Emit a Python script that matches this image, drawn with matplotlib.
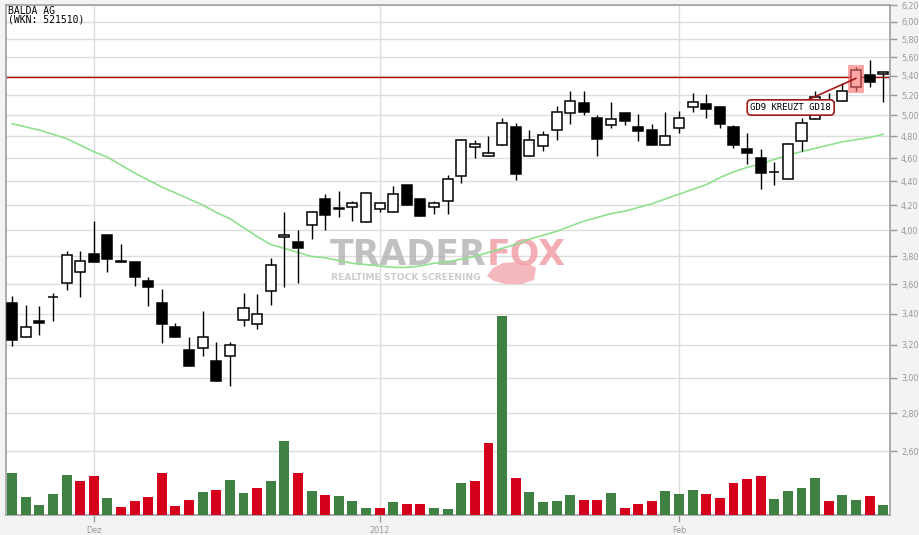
import matplotlib
matplotlib.use("Agg")
import matplotlib.pyplot as plt
from matplotlib.patches import Rectangle, Polygon
from matplotlib.ticker import FixedLocator, NullLocator, NullFormatter, FuncFormatter
import numpy as np

# ---------------- data ----------------
title_name = "BALDA AG"
title_wkn = "(WKN: 521510)"

opens = [3.47, 3.25, 3.35, 3.51, 3.61, 3.69, 3.82, 3.96, 3.76, 3.76,
         3.62, 3.47, 3.31, 3.17, 3.18, 3.10, 3.13, 3.36, 3.33, 3.55,
         3.95, 3.91, 4.04, 4.25, 4.17, 4.18, 4.06, 4.17, 4.14, 4.37,
         4.25, 4.18, 4.23, 4.44, 4.70, 4.62, 4.72, 4.89, 4.62, 4.71,
         4.86, 5.02, 5.12, 4.98, 4.91, 5.02, 4.89, 4.86, 4.72, 4.88,
         5.08, 5.11, 5.08, 4.89, 4.68, 4.60, 4.48, 4.42, 4.76, 4.97,
         5.10, 5.14, 5.29, 5.41, 5.42]
highs = [3.52, 3.46, 3.45, 3.54, 3.84, 3.84, 4.07, 3.96, 3.89, 3.76,
         3.65, 3.57, 3.34, 3.25, 3.42, 3.22, 3.22, 3.54, 3.53, 3.79,
         4.14, 4.00, 4.15, 4.29, 4.32, 4.23, 4.31, 4.22, 4.36, 4.37,
         4.25, 4.23, 4.45, 4.78, 4.77, 4.80, 4.98, 4.93, 4.86, 4.85,
         5.09, 5.24, 5.24, 5.00, 5.13, 5.02, 5.01, 4.92, 5.03, 5.04,
         5.22, 5.21, 5.08, 4.91, 4.83, 4.68, 4.57, 4.74, 4.98, 5.24,
         5.22, 5.33, 5.50, 5.57, 5.44]
lows = [3.19, 3.25, 3.26, 3.35, 3.56, 3.51, 3.76, 3.69, 3.76, 3.59,
        3.45, 3.21, 3.25, 3.07, 3.13, 2.98, 2.95, 3.32, 3.30, 3.46,
        3.58, 3.61, 3.93, 4.00, 4.10, 4.07, 4.06, 4.14, 4.14, 4.20,
        4.11, 4.13, 4.13, 4.38, 4.60, 4.62, 4.72, 4.41, 4.62, 4.67,
        4.77, 4.92, 5.00, 4.62, 4.88, 4.91, 4.76, 4.72, 4.72, 4.83,
        5.03, 4.98, 4.88, 4.69, 4.55, 4.33, 4.37, 4.42, 4.67, 4.97,
        5.05, 5.14, 5.24, 5.29, 5.13]
closes = [3.23, 3.31, 3.34, 3.51, 3.81, 3.77, 3.76, 3.78, 3.76, 3.65,
          3.58, 3.33, 3.25, 3.07, 3.25, 2.98, 3.20, 3.44, 3.40, 3.74,
          3.96, 3.86, 4.14, 4.12, 4.17, 4.22, 4.30, 4.22, 4.29, 4.20,
          4.11, 4.22, 4.42, 4.77, 4.73, 4.65, 4.93, 4.46, 4.77, 4.81,
          5.03, 5.14, 5.03, 4.78, 4.97, 4.95, 4.85, 4.72, 4.80, 4.98,
          5.13, 5.06, 4.92, 4.72, 4.65, 4.47, 4.48, 4.73, 4.93, 5.18,
          5.13, 5.24, 5.46, 5.34, 5.44]
volumes = [126, 54, 30, 63, 120, 102, 117, 51, 24, 42,
           54, 126, 27, 45, 69, 75, 105, 66, 81, 102,
           222, 126, 72, 60, 57, 42, 21, 21, 39, 33,
           33, 21, 18, 96, 102, 216, 597, 111, 69, 39,
           42, 60, 45, 45, 66, 21, 33, 42, 72, 63,
           75, 63, 51, 96, 108, 117, 48, 72, 81, 111,
           42, 60, 45, 57, 30]
ma_values = [4.92, 4.89, 4.86, 4.82, 4.78, 4.72, 4.66, 4.61, 4.54, 4.47,
             4.41, 4.35, 4.30, 4.25, 4.20, 4.14, 4.09, 4.02, 3.95, 3.89,
             3.86, 3.83, 3.80, 3.79, 3.77, 3.75, 3.74, 3.73, 3.72, 3.72,
             3.73, 3.75, 3.76, 3.78, 3.80, 3.83, 3.86, 3.89, 3.93, 3.96,
             3.99, 4.03, 4.07, 4.10, 4.13, 4.15, 4.18, 4.21, 4.25, 4.29,
             4.33, 4.37, 4.43, 4.48, 4.52, 4.55, 4.59, 4.63, 4.66, 4.69,
             4.72, 4.75, 4.77, 4.79, 4.82]
month_tick_idx = [6, 27, 49]
month_labels = ["Dez", "2012", "Feb"]
price_ticks = [2.6, 2.8, 3.0, 3.2, 3.4, 3.6, 3.8, 4.0, 4.2, 4.4,
               4.6, 4.8, 5.0, 5.2, 5.4, 5.6, 5.8, 6.0, 6.2]
resistance_level = 5.39
signal_idx = 62
signal_text = "GD9 KREUZT GD18"
watermark_a = "TRADER"
watermark_b = "FOX"
watermark_sub = "REALTIME STOCK SCREENING"

# ---------------- figure ----------------
W, H = 920, 535
fig = plt.figure(figsize=(W / 100, H / 100), dpi=100, facecolor="#f3f3f3")
ax = fig.add_axes([6 / W, 20 / H, 884 / W, 510 / H])
ax.set_facecolor("white")
ax2 = ax.twinx()

n = len(opens)
x = np.arange(n)
o = np.array(opens); c = np.array(closes)
hi = np.array(highs); lo = np.array(lows)

ax.set_yscale("log")
ax.set_ylim(2.297, 6.2)
ax.set_xlim(-0.45, n - 0.5)

# axes / ticks
ax.yaxis.tick_right()
ax.yaxis.set_major_locator(FixedLocator(price_ticks))
ax.yaxis.set_minor_locator(NullLocator())
ax.yaxis.set_minor_formatter(NullFormatter())
ax.yaxis.set_major_formatter(FuncFormatter(lambda v, p: f"{v:.2f}".replace(".", ",")))
ax.set_xticks(month_tick_idx)
ax.set_xticklabels(month_labels)
ax.tick_params(axis="both", direction="out", length=5, width=1, color="#999999",
               labelcolor="#999999", labelsize=5.8, pad=3)
ax.set_axisbelow(True)
ax.grid(True, axis="both", color="#dddddd", lw=1)
for s in ax.spines.values():
    s.set_color("#a0a0a0")
    s.set_linewidth(1.2)

# watermark (behind data)
ax.text(487 / W, 1 - 265 / H, watermark_a, transform=fig.transFigure, ha="right",
        va="baseline", fontsize=25, fontweight="bold", color="#b2b2b2", alpha=0.8, zorder=1)
ax.text(487 / W, 1 - 265 / H, watermark_b, transform=fig.transFigure, ha="left",
        va="baseline", fontsize=25, fontweight="bold", color="#f2a0a8", alpha=0.85, zorder=1)
ax.text(406 / W, 1 - 277 / H, watermark_sub, transform=fig.transFigure, ha="center",
        va="center", fontsize=6.6, fontweight="bold", color="#cccccc", zorder=1)
tail_px = [(487, 276), (493, 268), (503, 263), (516, 262), (530, 264), (536, 268),
           (534, 280), (522, 284), (505, 284), (494, 281)]
ax.add_patch(Polygon([(px / W, 1 - py / H) for px, py in tail_px], closed=True,
                     transform=fig.transFigure, facecolor="#f2a0a8", edgecolor="none",
                     alpha=0.75, zorder=1))

# moving average & resistance
ax.plot(x, ma_values, color="#8fe08f", lw=1.2, zorder=2)
ax.axhline(resistance_level, color="#b00000", lw=1, zorder=2.5)

# candles
ax.vlines(x, lo, hi, color="black", lw=1, zorder=3)
bottoms = np.minimum(o, c)
heights = np.maximum(np.abs(c - o), 0.003)
faces = ["white" if cc > oo else "black" for oo, cc in zip(o, c)]
ax.bar(x, heights, bottom=bottoms, width=0.74, color=faces, edgecolor="black",
       linewidth=1.1, zorder=4)

# highlight of signal candle
ax.add_patch(Rectangle((signal_idx - 0.6, lo[signal_idx] - 0.02), 1.2,
                       hi[signal_idx] - lo[signal_idx] + 0.04,
                       facecolor="#ff6a6a", edgecolor="none", alpha=0.6, zorder=5))

ax.annotate(signal_text, xy=(signal_idx, (o[signal_idx] + c[signal_idx]) / 2),
            xytext=(-47, -21), textcoords="offset points", ha="center", va="center",
            fontsize=6.5, family="DejaVu Sans Mono", color="black",
            bbox=dict(boxstyle="round,pad=0.35,rounding_size=0.45", fc="white",
                      ec="#a01818", lw=1.2),
            arrowprops=dict(arrowstyle="-", color="#a01818", lw=1.2,
                            shrinkA=0, shrinkB=0),
            zorder=6)

# volume
vol_colors = ["#3f8142"]
for i in range(1, n):
    vol_colors.append("#3f8142" if c[i] >= c[i - 1] else "#d4001c")
ax2.bar(x, volumes, width=0.73, color=vol_colors, zorder=3)
ax2.set_ylim(0, max(volumes) / 0.39)
ax2.set_yticks([])
ax2.yaxis.set_visible(False)
for s in ax2.spines.values():
    s.set_visible(False)
ax2.set_xlim(-0.45, n - 0.5)

# title
fig.text(8 / W, 1 - 11 / H, title_name, family="DejaVu Sans Mono", fontsize=7,
         color="black", va="center", ha="left")
fig.text(8 / W, 1 - 19.7 / H, title_wkn, family="DejaVu Sans Mono", fontsize=7,
         color="black", va="center", ha="left")

fig.savefig("out.png", dpi=100, facecolor=fig.get_facecolor())
